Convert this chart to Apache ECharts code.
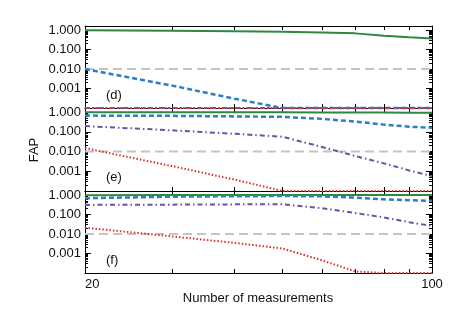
<!DOCTYPE html>
<html>
<head>
<meta charset="utf-8">
<script src="https://cdn.jsdelivr.net/npm/echarts@6/dist/echarts.min.js"></script>
<style>
html, body { margin: 0; padding: 0; background: #fff; }
#chart { width: 458px; height: 327px; }
</style>
</head>
<body>
<div id="chart"></div>
<script>
// number of measurements (x)
const nMeas = [20, 30, 40, 50, 60, 70, 80, 90, 100];

// panel (d)
const greenD = [0.96, 0.9, 0.85, 0.8, 0.74, 0.67, 0.51, 0.42, 0.37];
const blueD = [0.01, 0.0014, 0.0003, 0.0001, 0.0001, 0.0001, 0.0001, 0.0001, 0.0001];
const purpleD = [0.0001, 0.0001, 0.0001, 0.0001, 0.0001, 0.0001, 0.0001, 0.0001, 0.0001];
const redD = [0.0001, 0.0001, 0.0001, 0.0001, 0.0001, 0.0001, 0.0001, 0.0001, 0.0001];

// panel (e)
const greenE = [0.98, 0.98, 0.98, 0.97, 0.96, 0.95, 0.94, 0.93, 0.92];
const blueE = [0.66, 0.64, 0.6, 0.57, 0.45, 0.33, 0.23, 0.18, 0.16];
const purpleE = [0.195, 0.118, 0.079, 0.056, 0.017, 0.006, 0.0025, 0.0011, 0.00056];
const redE = [0.015, 0.0018, 0.00038, 0.0001, 0.0001, 0.0001, 0.0001, 0.0001, 0.0001];

// panel (f)
const greenF = [0.97, 0.99, 1.0, 1.0, 1.0, 1.0, 1.0, 1.0, 1.0];
const blueF = [0.68, 0.82, 0.86, 0.88, 0.85, 0.73, 0.6, 0.54, 0.5];
const purpleF = [0.31, 0.32, 0.33, 0.33, 0.21, 0.12, 0.07, 0.04, 0.026];
const redF = [0.021, 0.0075, 0.0035, 0.0018, 0.00045, 0.00012, 0.0001, 0.0001, 0.0001];

// 1% FAP level (grey dashed)
const fapLevel = 0.01;

// tick labels / positions
const yMajor = [0.0001, 0.001, 0.01, 0.1, 1];
const yLabels = [0.001, 0.01, 0.1, 1];
const yMinor = [0.0002, 0.0003, 0.0004, 0.0005, 0.0006, 0.0007, 0.0008, 0.0009,
    0.002, 0.003, 0.004, 0.005, 0.006, 0.007, 0.008, 0.009,
    0.02, 0.03, 0.04, 0.05, 0.06, 0.07, 0.08, 0.09,
    0.2, 0.3, 0.4, 0.5, 0.6, 0.7, 0.8, 0.9];
const xTicks = [30, 40, 50, 60, 70, 80, 90];
const xLabels = [20, 100];
const panelNames = ["(d)", "(e)", "(f)"];

const panels = [
    [greenD, blueD, purpleD, redD],
    [greenE, blueE, purpleE, redE],
    [greenF, blueF, purpleF, redF]
];

const font = '"Liberation Sans", Arial, sans-serif';
const gridPos = [
    { top: 26, height: 82 },
    { top: 108, height: 83 },
    { top: 191, height: 82 }
];

const chart = echarts.init(document.getElementById("chart"));

let grid = [], xAxis = [], yAxis = [], series = [], graphic = [];

gridPos.forEach((g, gi) => {
    grid.push({ left: 85, right: 26, top: g.top, height: g.height });

    ["bottom", "top"].forEach(pos => {
        xAxis.push({
            type: "log",
            gridIndex: gi,
            position: pos,
            min: 20,
            max: 100,
            axisLine: { show: true, lineStyle: { color: "#000", width: 1 } },
            axisTick: { show: true, inside: true, length: 4, customValues: xTicks, lineStyle: { color: "#000" } },
            axisLabel: {
                show: gi === 2 && pos === "bottom",
                customValues: xLabels,
                fontSize: 13,
                fontFamily: font,
                color: "#111",
                margin: 5,
                alignMinLabel: "left"
            },
            splitLine: { show: false },
            minorTick: { show: false }
        });
    });

    ["left", "right"].forEach(pos => {
        // major decade ticks
        yAxis.push({
            type: "log",
            gridIndex: gi,
            position: pos,
            min: 0.0001,
            max: 1.6,
            axisLine: { show: true, lineStyle: { color: "#000", width: 1 } },
            axisTick: { show: true, inside: true, length: 6, customValues: yMajor, lineStyle: { color: "#000" } },
            axisLabel: {
                show: pos === "left",
                customValues: yLabels,
                formatter: v => v.toFixed(3),
                fontSize: 13,
                fontFamily: font,
                color: "#111",
                margin: 4
            },
            splitLine: { show: false }
        });
        // minor ticks
        yAxis.push({
            type: "log",
            gridIndex: gi,
            position: pos,
            min: 0.0001,
            max: 1.6,
            axisLine: { show: false },
            axisTick: { show: true, inside: true, length: 3, customValues: yMinor, lineStyle: { color: "#000" } },
            axisLabel: { show: false },
            splitLine: { show: false }
        });
    });

    const base = {
        type: "line",
        xAxisIndex: gi * 2,
        yAxisIndex: gi * 4,
        symbol: "none",
        clip: false,
        silent: true,
        animation: false
    };
    const [green, blue, purple, red] = panels[gi];
    series.push(Object.assign({}, base, {
        data: [[nMeas[0], fapLevel], [nMeas[nMeas.length - 1], fapLevel]],
        lineStyle: { color: "#c4c4c4", width: 2, type: [9, 5] }
    }));
    series.push(Object.assign({}, base, {
        data: nMeas.map((n, i) => [n, green[i]]),
        lineStyle: { color: "#2a8a40", width: 2 }
    }));
    series.push(Object.assign({}, base, {
        data: nMeas.map((n, i) => [n, blue[i]]),
        lineStyle: { color: "#2e7dc6", width: 2.5, type: [5, 3] }
    }));
    series.push(Object.assign({}, base, {
        data: nMeas.map((n, i) => [n, purple[i]]),
        lineStyle: { color: "#6a52a8", width: 2, type: [5, 3, 1.5, 3] }
    }));
    series.push(Object.assign({}, base, {
        data: nMeas.map((n, i) => [n, red[i]]),
        lineStyle: { color: "#e0302e", width: 2, type: [1.5, 2] }
    }));

    graphic.push({
        type: "text",
        left: 106,
        top: g.top + 63,
        style: { text: panelNames[gi], font: "13px " + font, fill: "#111" }
    });
});

graphic.push({
    type: "text",
    x: 34,
    y: 150,
    rotation: Math.PI / 2,
    style: { text: "FAP", font: "13px " + font, fill: "#111", textAlign: "center", textVerticalAlign: "middle" }
});
graphic.push({
    type: "text",
    x: 258,
    y: 298,
    style: { text: "Number of measurements", font: "13px " + font, fill: "#111", textAlign: "center", textVerticalAlign: "middle" }
});

chart.setOption({
    backgroundColor: "#fff",
    animation: false,
    grid: grid,
    xAxis: xAxis,
    yAxis: yAxis,
    series: series,
    graphic: graphic
});
</script>
</body>
</html>
